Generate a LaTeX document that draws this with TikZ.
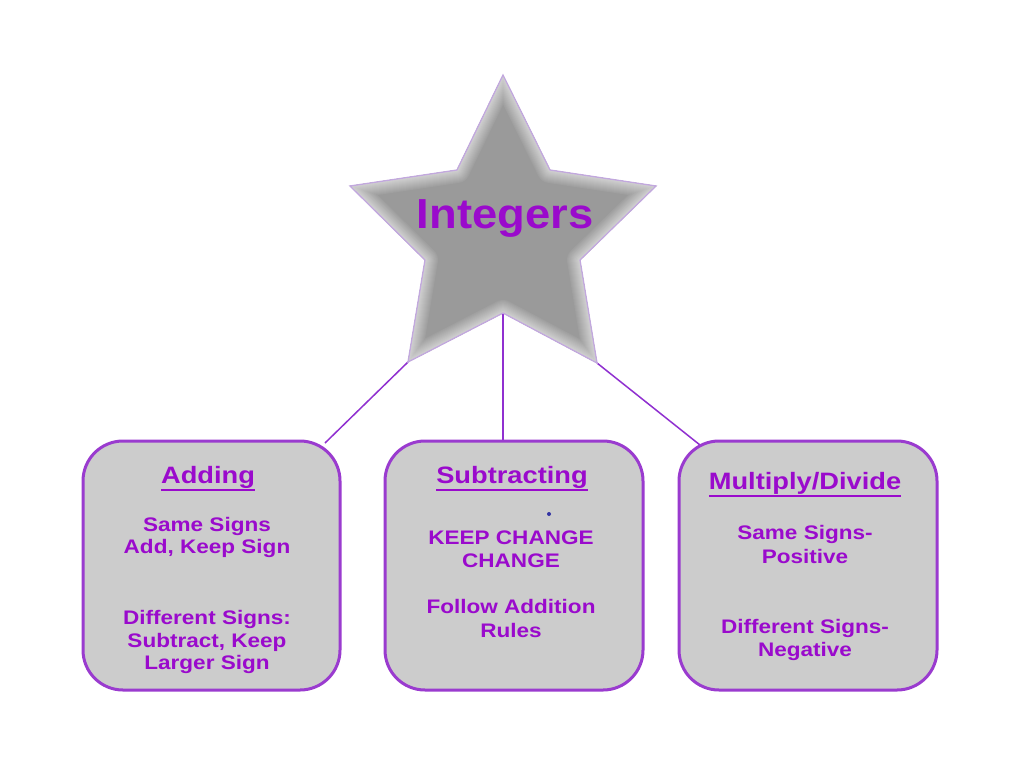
\documentclass[tikz,border=0pt]{standalone}
\usepackage{fontspec}
\setmainfont{Liberation Sans}[FakeStretch=1.15]
\newfontfamily\bigfont{Liberation Sans}[FakeStretch=1.08]
\definecolor{tpurple}{HTML}{9A0ACC}
\definecolor{bpurple}{HTML}{9A3BCF}
\definecolor{lpurple}{HTML}{9030D0}
\definecolor{boxgray}{HTML}{CCCCCC}
\definecolor{stargray}{HTML}{9A9A9A}
\definecolor{starline}{HTML}{C2A8DE}
\newcommand\ulx[1]{\setbox0\hbox{#1}\rlap{\raisebox{-8pt}{\rule{\wd0}{2pt}}}\box0}
\tikzset{
  txt/.style={font=\fontsize{19.6}{22}\selectfont\bfseries, text=tpurple, anchor=base, inner sep=0pt},
  ttl/.style={font=\fontsize{23.7}{26}\selectfont\bfseries, text=tpurple, anchor=base, inner sep=0pt},
  box/.style={draw=bpurple, line width=3pt, fill=boxgray, rounded corners=40pt, inner sep=0pt},
  link/.style={draw=lpurple, line width=1.5pt}
}
\begin{document}
\begin{tikzpicture}[x=1pt,y=-1pt]
\useasboundingbox (0,0) rectangle (1024,768);
\fill[white] (0,0) rectangle (1024,768);
% star points
\coordinate (sT) at (503,75);
\coordinate (sIUR) at (550,170);
\coordinate (sR) at (656,186);
\coordinate (sILR) at (580,260);
\coordinate (sBR) at (597,363);
\coordinate (sB) at (503,313);
\coordinate (sBL) at (408,362);
\coordinate (sILL) at (425,260);
\coordinate (sL) at (350,186);
\coordinate (sIUL) at (457,170);
% connector ends
\coordinate (eA) at (325,443);
\coordinate (eS) at (503,442);
\coordinate (eM) at (700,445);
\draw[link] (sBL) -- (eA);
\draw[link] (sB) -- (eS);
\draw[link] (sBR) -- (eM);
% star with soft inner glow
\begin{scope}
\clip (sT) -- (sIUR) -- (sR) -- (sILR) -- (sBR) -- (sB) -- (sBL) -- (sILL) -- (sL) -- (sIUL) -- cycle;
\fill[stargray] (sT) -- (sIUR) -- (sR) -- (sILR) -- (sBR) -- (sB) -- (sBL) -- (sILL) -- (sL) -- (sIUL) -- cycle;
\foreach \w/\c in {26/94,24/90,22/86,20/82,18/78,16/74,14/70,12/66,10/62,8/58,6/54,4/50,2/46}{
  \draw[line width=\w pt, line join=round, color=stargray!\c!white] (sT) -- (sIUR) -- (sR) -- (sILR) -- (sBR) -- (sB) -- (sBL) -- (sILL) -- (sL) -- (sIUL) -- cycle;
}
\end{scope}
\draw[starline, line width=1.3pt, line join=miter] (sT) -- (sIUR) -- (sR) -- (sILR) -- (sBR) -- (sB) -- (sBL) -- (sILL) -- (sL) -- (sIUL) -- cycle;
\node[anchor=base, inner sep=0pt, text=tpurple, font=\bigfont\fontsize{42}{46}\selectfont\bfseries] (int) at (505,228) {Integers};
% boxes
\node[box, minimum width=257pt, minimum height=249pt] (add) at (211.5,565.5) {};
\node[box, minimum width=258pt, minimum height=249pt] (sub) at (514,565.5) {};
\node[box, minimum width=258pt, minimum height=249pt] (mul) at (808,565.5) {};
% Adding
\node[ttl] (at) at (208,483) {\ulx{Adding}};
\node[txt] (a1) at (207,531) {Same Signs};
\node[txt] (a2) at (207,553) {Add, Keep Sign};
\node[txt] (a3) at (207,624) {Different Signs:};
\node[txt] (a4) at (207,647) {Subtract, Keep};
\node[txt] (a5) at (207,669) {Larger Sign};
% Subtracting
\node[ttl] (st) at (512,483) {\ulx{Subtracting}};
\node[txt] (s1) at (511,544) {KEEP CHANGE};
\node[txt] (s2) at (511,567) {CHANGE};
\node[txt] (s3) at (511,613) {Follow Addition};
\node[txt] (s4) at (511,637) {Rules};
\fill[blue!55!black!80!white] (549,514) circle (2pt);
% Multiply/Divide
\node[ttl] (mt) at (805,489) {\ulx{Multiply/Divide}};
\node[txt] (m1) at (805,539) {Same Signs-};
\node[txt] (m2) at (805,563) {Positive};
\node[txt] (m3) at (805,633) {Different Signs-};
\node[txt] (m4) at (805,656) {Negative};
\end{tikzpicture}
\end{document}
